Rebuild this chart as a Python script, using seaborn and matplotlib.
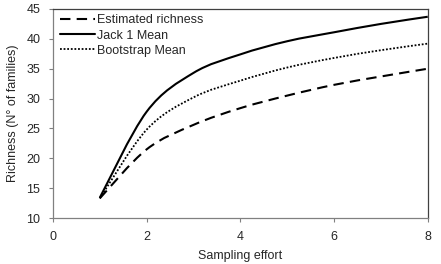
import numpy as np
import pandas as pd
import matplotlib
matplotlib.use("Agg")
import matplotlib.pyplot as plt
from matplotlib.path import Path
from matplotlib.patches import PathPatch
import seaborn as sns

# values
effort = [1, 2, 3, 4, 5, 6, 7, 8]
estimated = [13.3, 21.5, 25.6, 28.4, 30.5, 32.3, 33.7, 35.0]
jack1 = [13.4, 27.8, 34.3, 37.4, 39.6, 41.1, 42.5, 43.7]
bootstrap = [13.3, 24.8, 30.2, 33.0, 35.2, 36.8, 38.1, 39.2]

names = ["Estimated richness", "Jack 1 Mean", "Bootstrap Mean"]
df = pd.concat([
    pd.DataFrame({"effort": effort, "rich": estimated, "serie": names[0]}),
    pd.DataFrame({"effort": effort, "rich": jack1, "serie": names[1]}),
    pd.DataFrame({"effort": effort, "rich": bootstrap, "serie": names[2]}),
])

sns.set_style("ticks")
plt.rcParams['font.family'] = ['Liberation Sans', 'DejaVu Sans']

fig = plt.figure(figsize=(4.41, 2.64), dpi=100)
ax = fig.add_axes([0.120, 0.174, 0.850, 0.792])

styles = {names[0]: (0, (5, 3)), names[1]: "-", names[2]: (0, (1, 1))}
widths = {names[0]: 1.5, names[1]: 1.5, names[2]: 1.3}

sns.lineplot(data=df, x="effort", y="rich", hue="serie", style="serie",
             palette=["black"] * 3, dashes=False, ax=ax, legend=False)


def smooth_path(x, y):
    # excel-like smoothed line: cubic bezier segments through the points
    p = np.column_stack([x, y]).astype(float)
    n = len(p)
    verts = [p[0]]
    codes = [Path.MOVETO]
    for i in range(n - 1):
        p0 = p[i - 1] if i > 0 else p[i]
        p3 = p[i + 2] if i + 2 < n else p[i + 1]
        c1 = p[i] + (p[i + 1] - p0) / 6
        c2 = p[i + 1] - (p3 - p[i]) / 6
        verts += [c1, c2, p[i + 1]]
        codes += [Path.CURVE4] * 3
    return Path(verts, codes)


# swap the straight segments for smoothed curves
handles = []
for line, name in zip(list(ax.lines), names):
    xd, yd = line.get_xdata(), line.get_ydata()
    line.remove()
    patch = PathPatch(smooth_path(xd, yd), fill=False, edgecolor="black",
                      linestyle=styles[name], linewidth=widths[name],
                      capstyle="butt")
    ax.add_patch(patch)
    handles.append(plt.Line2D([], [], color="black", linestyle=styles[name],
                              linewidth=widths[name]))

ax.set_xlim(0, 8)
ax.set_ylim(10, 45)
ax.set_xticks([0, 2, 4, 6, 8])
ax.set_yticks(range(10, 50, 5))
ax.tick_params(labelsize=9, length=3, width=0.8, color="#808080")
ax.tick_params(axis="y", pad=6)
ax.tick_params(axis="x", pad=6)
for s in ax.spines.values():
    s.set_linewidth(0.9)
ax.spines["left"].set_color("#808080")
ax.spines["bottom"].set_color("#808080")
ax.spines["top"].set_color("#404040")
ax.spines["right"].set_color("#404040")

ax.set_xlabel("Sampling effort", fontsize=9, labelpad=5)
ax.set_ylabel("Richness (N° of families)", fontsize=9, labelpad=5)

ax.legend(handles, names, loc="upper left", frameon=False, fontsize=9,
          handlelength=2.8, handletextpad=0.1, labelspacing=0.25,
          borderaxespad=0.2, bbox_to_anchor=(0.0, 1.01))

fig.savefig("out.png", dpi=100)
